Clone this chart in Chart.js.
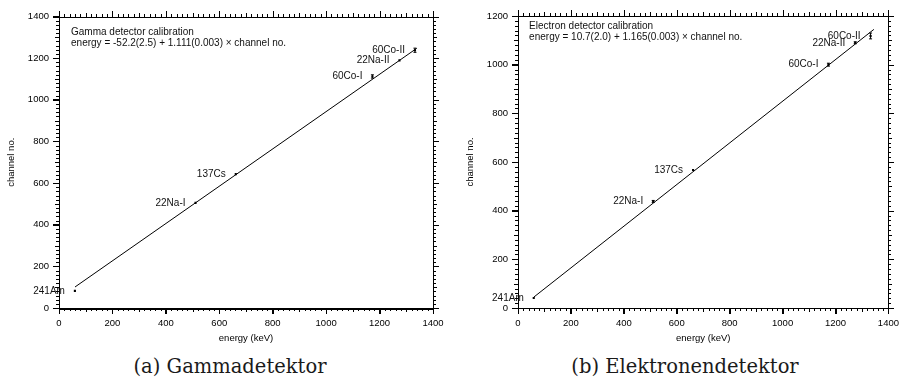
<!DOCTYPE html>
<html>
<head>
<meta charset="utf-8">
<script src="https://cdn.jsdelivr.net/npm/chart.js@4.4.0/dist/chart.umd.min.js"></script>
<style>
  body { margin: 0; background: #fff; width: 903px; height: 383px; position: relative; overflow: hidden; }
  canvas { position: absolute; top: 0; }
  #gamma { left: 0; }
  #electron { left: 459px; }
  .cap { position: absolute; top: 357px; font: 19.5px "DejaVu Serif"; line-height: 20px; color: #1a1a1a;
         white-space: nowrap; transform: translateX(-50%); }
</style>
</head>
<body>
<canvas id="gamma" width="450" height="350"></canvas>
<canvas id="electron" width="444" height="350"></canvas>
<div class="cap" style="left:230px">(a) Gammadetektor</div>
<div class="cap" style="left:685px">(b) Elektronendetektor</div>
<script>
// calibration sources and their line energies (keV)
const sources = ['241Am', '22Na-I', '137Cs', '60Co-I', '22Na-II', '60Co-II'];
const energies = [59.5, 511, 661.7, 1173.2, 1274.5, 1332.5];

// gamma detector
const gammaChannels = [82, 505, 643, 1112, 1189, 1238];
const gammaErrors = [0, 0, 0, 8, 0, 10];
const gammaFitEnergy = [60, 1339];
const gammaFitChannel = [101, 1247];

// electron detector
const electronChannels = [41, 438, 567, 1000, 1090, 1118];
const electronErrors = [0, 4, 0, 6, 4, 12];
const electronFitEnergy = [60, 1345];
const electronFitChannel = [45, 1145];

// tick labels
const energyTicks = [0, 200, 400, 600, 800, 1000, 1200, 1400];
const gammaChannelTicks = [0, 200, 400, 600, 800, 1000, 1200, 1400];
const electronChannelTicks = [0, 200, 400, 600, 800, 1000, 1200];

const sans = '"Liberation Sans", Arial, sans-serif';

// box, mirrored axes and minor ticks
const frame = {
  id: 'frame',
  afterDraw(chart) {
    const { ctx, chartArea: a, scales: { x, y } } = chart;
    ctx.save();
    ctx.strokeStyle = '#000';
    ctx.lineWidth = 1;
    ctx.strokeRect(Math.round(a.left) + 0.5, Math.round(a.top) + 0.5,
      Math.round(a.right - a.left), Math.round(a.bottom - a.top));
    ctx.beginPath();
    for (let v = x.min; v <= x.max; v += 20) {
      const px = Math.round(x.getPixelForValue(v)) + 0.5;
      const len = v % 200 === 0 ? 6 : (v % 100 === 0 ? 4 : 3);
      ctx.moveTo(px, Math.round(a.bottom)); ctx.lineTo(px, Math.round(a.bottom) + len);
      ctx.moveTo(px, Math.round(a.top)); ctx.lineTo(px, Math.round(a.top) - len);
    }
    for (let v = y.min; v <= y.max; v += 20) {
      const py = Math.round(y.getPixelForValue(v)) + 0.5;
      const len = v % 200 === 0 ? 6 : (v % 100 === 0 ? 4 : 3);
      ctx.moveTo(Math.round(a.left), py); ctx.lineTo(Math.round(a.left) - len, py);
      ctx.moveTo(Math.round(a.right), py); ctx.lineTo(Math.round(a.right) + len, py);
    }
    ctx.stroke();
    ctx.restore();
  }
};

// error bars, source labels and the calibration note
const marks = {
  id: 'marks',
  afterDatasetsDraw(chart, args, o) {
    const { ctx, scales: { x, y } } = chart;
    ctx.save();
    ctx.strokeStyle = '#000';
    ctx.lineWidth = 1;
    o.values.forEach((ch, i) => {
      const px = x.getPixelForValue(o.energies[i]);
      const err = o.errors[i];
      if (err > 0) {
        const t = y.getPixelForValue(ch + err), b = y.getPixelForValue(ch - err);
        ctx.beginPath();
        ctx.moveTo(px, t); ctx.lineTo(px, b);
        ctx.moveTo(px - 1.5, t); ctx.lineTo(px + 1.5, t);
        ctx.moveTo(px - 1.5, b); ctx.lineTo(px + 1.5, b);
        ctx.stroke();
      }
      ctx.fillStyle = '#111';
      ctx.font = '10px ' + sans;
      ctx.textAlign = 'right';
      ctx.textBaseline = 'middle';
      ctx.fillText(o.labels[i], px - 10, y.getPixelForValue(ch));
    });
    ctx.textAlign = 'left';
    ctx.font = '10px ' + sans;
    const nx = x.getPixelForValue(o.note.x), ny = y.getPixelForValue(o.note.y);
    o.note.lines.forEach((s, k) => ctx.fillText(s, nx, ny + k * 11.3));
    ctx.restore();
  }
};

function makeChart(id, opt) {
  const tickList = list => scale => { scale.ticks = list.map(v => ({ value: v })); };
  const plain = v => String(v);
  return new Chart(document.getElementById(id), {
    type: 'scatter',
    data: {
      datasets: [
        {
          data: opt.fitE.map((e, i) => ({ x: e, y: opt.fitC[i] })),
          showLine: true,
          borderColor: '#000',
          borderWidth: 1,
          pointRadius: 0
        },
        {
          data: energies.map((e, i) => ({ x: e, y: opt.values[i] })),
          pointStyle: 'rect',
          pointRadius: 1.5,
          pointBackgroundColor: '#000',
          pointBorderWidth: 0
        }
      ]
    },
    options: {
      responsive: false,
      animation: false,
      layout: { padding: { left: 0, top: opt.top, right: opt.right, bottom: 0 } },
      plugins: {
        legend: { display: false },
        tooltip: { enabled: false },
        marks: { energies, values: opt.values, errors: opt.errors, labels: sources, note: opt.note }
      },
      scales: {
        x: {
          type: 'linear', min: 0, max: 1400,
          afterBuildTicks: tickList(energyTicks),
          afterFit: s => { s.height = 42; },
          grid: { drawOnChartArea: false, tickLength: 6, color: '#000' },
          border: { color: '#000' },
          ticks: { color: '#000', padding: 4, maxRotation: 0, callback: plain,
                   font: { family: sans, size: 9.5 } },
          title: { display: true, text: 'energy (keV)', color: '#000',
                   font: { family: sans, size: 9.5 }, padding: { top: 0, bottom: 6 } }
        },
        y: {
          type: 'linear', min: 0, max: opt.yMax,
          afterBuildTicks: tickList(opt.yTicks),
          afterFit: s => { s.width = 59; },
          grid: { drawOnChartArea: false, tickLength: 6, color: '#000' },
          border: { color: '#000' },
          ticks: { color: '#000', padding: 4, callback: plain, font: { family: sans, size: 9.5 } },
          title: { display: true, text: 'channel no.', color: '#000',
                   font: { family: sans, size: 9.5 }, padding: { top: 6, bottom: 0 } }
        }
      }
    },
    plugins: [frame, marks]
  });
}

makeChart('gamma', {
  values: gammaChannels, errors: gammaErrors,
  fitE: gammaFitEnergy, fitC: gammaFitChannel,
  yMax: 1400, yTicks: gammaChannelTicks, top: 16.5, right: 17,
  note: { x: 45, y: 1325, lines: ['Gamma detector calibration',
    'energy = -52.2(2.5) + 1.111(0.003) \u00d7 channel no.'] }
});

makeChart('electron', {
  values: electronChannels, errors: electronErrors,
  fitE: electronFitEnergy, fitC: electronFitChannel,
  yMax: 1200, yTicks: electronChannelTicks, top: 16, right: 13,
  note: { x: 42, y: 1159, lines: ['Electron detector calibration',
    'energy = 10.7(2.0) + 1.165(0.003) \u00d7 channel no.'] }
});
</script>
</body>
</html>
